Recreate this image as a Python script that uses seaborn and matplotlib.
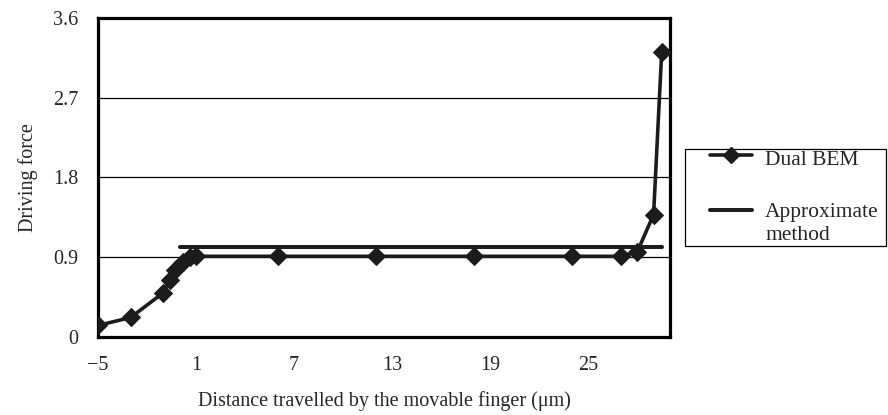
import matplotlib
matplotlib.use("Agg")
import matplotlib.pyplot as plt
from matplotlib.lines import Line2D
from matplotlib.patches import Rectangle
import seaborn as sns
import pandas as pd

# Driving force computed by the dual boundary element method
dual_x = [-5, -3, -1, -0.6, -0.3, 0.2, 0.6, 1, 6, 12, 18, 24, 27, 28, 29, 29.5]
dual_y = [0.13, 0.22, 0.50, 0.64, 0.76, 0.85, 0.90, 0.91, 0.91, 0.91, 0.91,
          0.91, 0.91, 0.96, 1.38, 3.22]

# Driving force from the approximate formula
approx_x = [0, 29.5]
approx_y = [1.02, 1.02]

x_ticks = [-5, 1, 7, 13, 19, 25]
x_tick_labels = ["\u22125", "1", "7", "13", "19", "25"]
y_ticks = [0, 0.9, 1.8, 2.7, 3.6]
y_tick_labels = ["0", "0.9", "1.8", "2.7", "3.6"]
series_names = ["Dual BEM", "Approximate", "method"]

sns.set_theme(style="white")
plt.rcParams["font.family"] = ["Liberation Serif", "DejaVu Serif"]

FS_TICK = 14.5
FS_LABEL = 14.5
FS_LEG = 15.5
INK = "#1c1c1c"

fig = plt.figure(figsize=(8.88, 4.15), dpi=100)
ax = fig.add_axes([0.1104, 0.188, 0.644, 0.769])

dual = pd.DataFrame({"x": dual_x, "y": dual_y})
approx = pd.DataFrame({"x": approx_x, "y": approx_y})

sns.lineplot(data=approx, x="x", y="y", ax=ax, color=INK, lw=2.9,
             estimator=None, sort=False, zorder=3)
sns.lineplot(data=dual, x="x", y="y", ax=ax, color=INK, lw=2.6,
             marker="D", markersize=9.5, markeredgecolor=INK,
             estimator=None, sort=False, zorder=4)

ax.set_xlim(-5, 30)
ax.set_ylim(0, 3.6)
ax.set_xticks(x_ticks)
ax.set_xticklabels(x_tick_labels, fontsize=FS_TICK)
ax.set_yticks(y_ticks)
ax.set_yticklabels(y_tick_labels, fontsize=FS_TICK)
ax.tick_params(axis="both", direction="in", length=4, width=2, color="black")
ax.tick_params(axis="x", pad=14)
ax.tick_params(axis="y", pad=14)

ax.yaxis.grid(True, color="black", lw=0.9)
ax.xaxis.grid(False)
for s in ax.spines.values():
    s.set_color("black")
    s.set_linewidth(2.3)

ax.set_xlabel("Distance travelled by the movable finger (\u03bcm)",
              fontsize=FS_LABEL, labelpad=11)
ax.set_ylabel("Driving force", fontsize=FS_LABEL, labelpad=11)

# Legend box with its two entries, laid out in figure coordinates
fig.patches.append(Rectangle((0.7714, 0.4072), 0.2264, 0.2337,
                             transform=fig.transFigure, fill=False,
                             edgecolor="black", lw=0.9))
fig.add_artist(Line2D([0.7995, 0.8468], [0.6265, 0.6265],
                      transform=fig.transFigure, color=INK, lw=2.6))
fig.add_artist(Line2D([0.8231], [0.6265], transform=fig.transFigure,
                      color=INK, marker="D", markersize=8, lw=0))
fig.add_artist(Line2D([0.7995, 0.8468], [0.494, 0.494],
                      transform=fig.transFigure, color=INK, lw=2.9))
fig.text(0.8615, 0.6024, series_names[0], fontsize=FS_LEG, va="baseline")
fig.text(0.8615, 0.4771, series_names[1], fontsize=FS_LEG, va="baseline")
fig.text(0.8615, 0.4217, series_names[2], fontsize=FS_LEG, va="baseline")

fig.savefig("out.png", dpi=100)
